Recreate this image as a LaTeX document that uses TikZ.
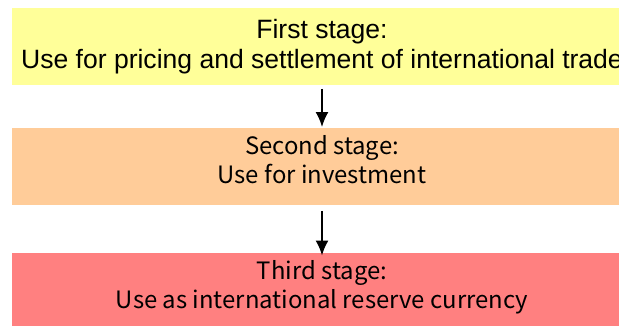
\documentclass[tikz,border=0pt]{standalone}
\usepackage{fontspec}
\usetikzlibrary{arrows.meta}
\setmainfont{Liberation Sans}
\newfontfamily\gothic{Noto Sans CJK JP}
\definecolor{stageyellow}{HTML}{FFFF99}
\definecolor{stageorange}{HTML}{FFCC99}
\definecolor{stagered}{HTML}{FF8080}
\newcommand{\lowdepth}{\rule[-8pt]{0pt}{8pt}}
\tikzset{
  stagebox/.style={minimum width=12.4cm, minimum height=1.54cm, align=center, inner sep=0pt}
}
\begin{document}
\begin{tikzpicture}[x=0.02cm,y=-0.02cm,>={Latex[length=3mm,width=2.6mm]},line width=1.1pt]
  \useasboundingbox (0,0) rectangle (619,325);
  \clip (0,0) rectangle (619,325);

  % Stage nodes
  \node[stagebox, fill=stageyellow, font=\fontsize{15.1}{17}\selectfont] (stage1) at (322,46.5)
    {First stage:\\Use for pricing and settlement of international trade};
  \node[stagebox, fill=stageorange, font=\gothic\fontsize{13.6}{17}\selectfont] (stage2) at (322,166.5)
    {Second stage:\\Use for investment\lowdepth};
  \node[stagebox, fill=stagered, font=\gothic\fontsize{13.6}{17}\selectfont] (stage3) at (322,291.5)
    {Third stage:\\Use as international reserve currency\lowdepth};

  % Arrows
  \draw[->] (stage1.south) ++(0,3) -- (stage2.north);
  \draw[->] (stage2.south) ++(0,5) -- ([yshift=-2]stage3.north);
\end{tikzpicture}
\end{document}
